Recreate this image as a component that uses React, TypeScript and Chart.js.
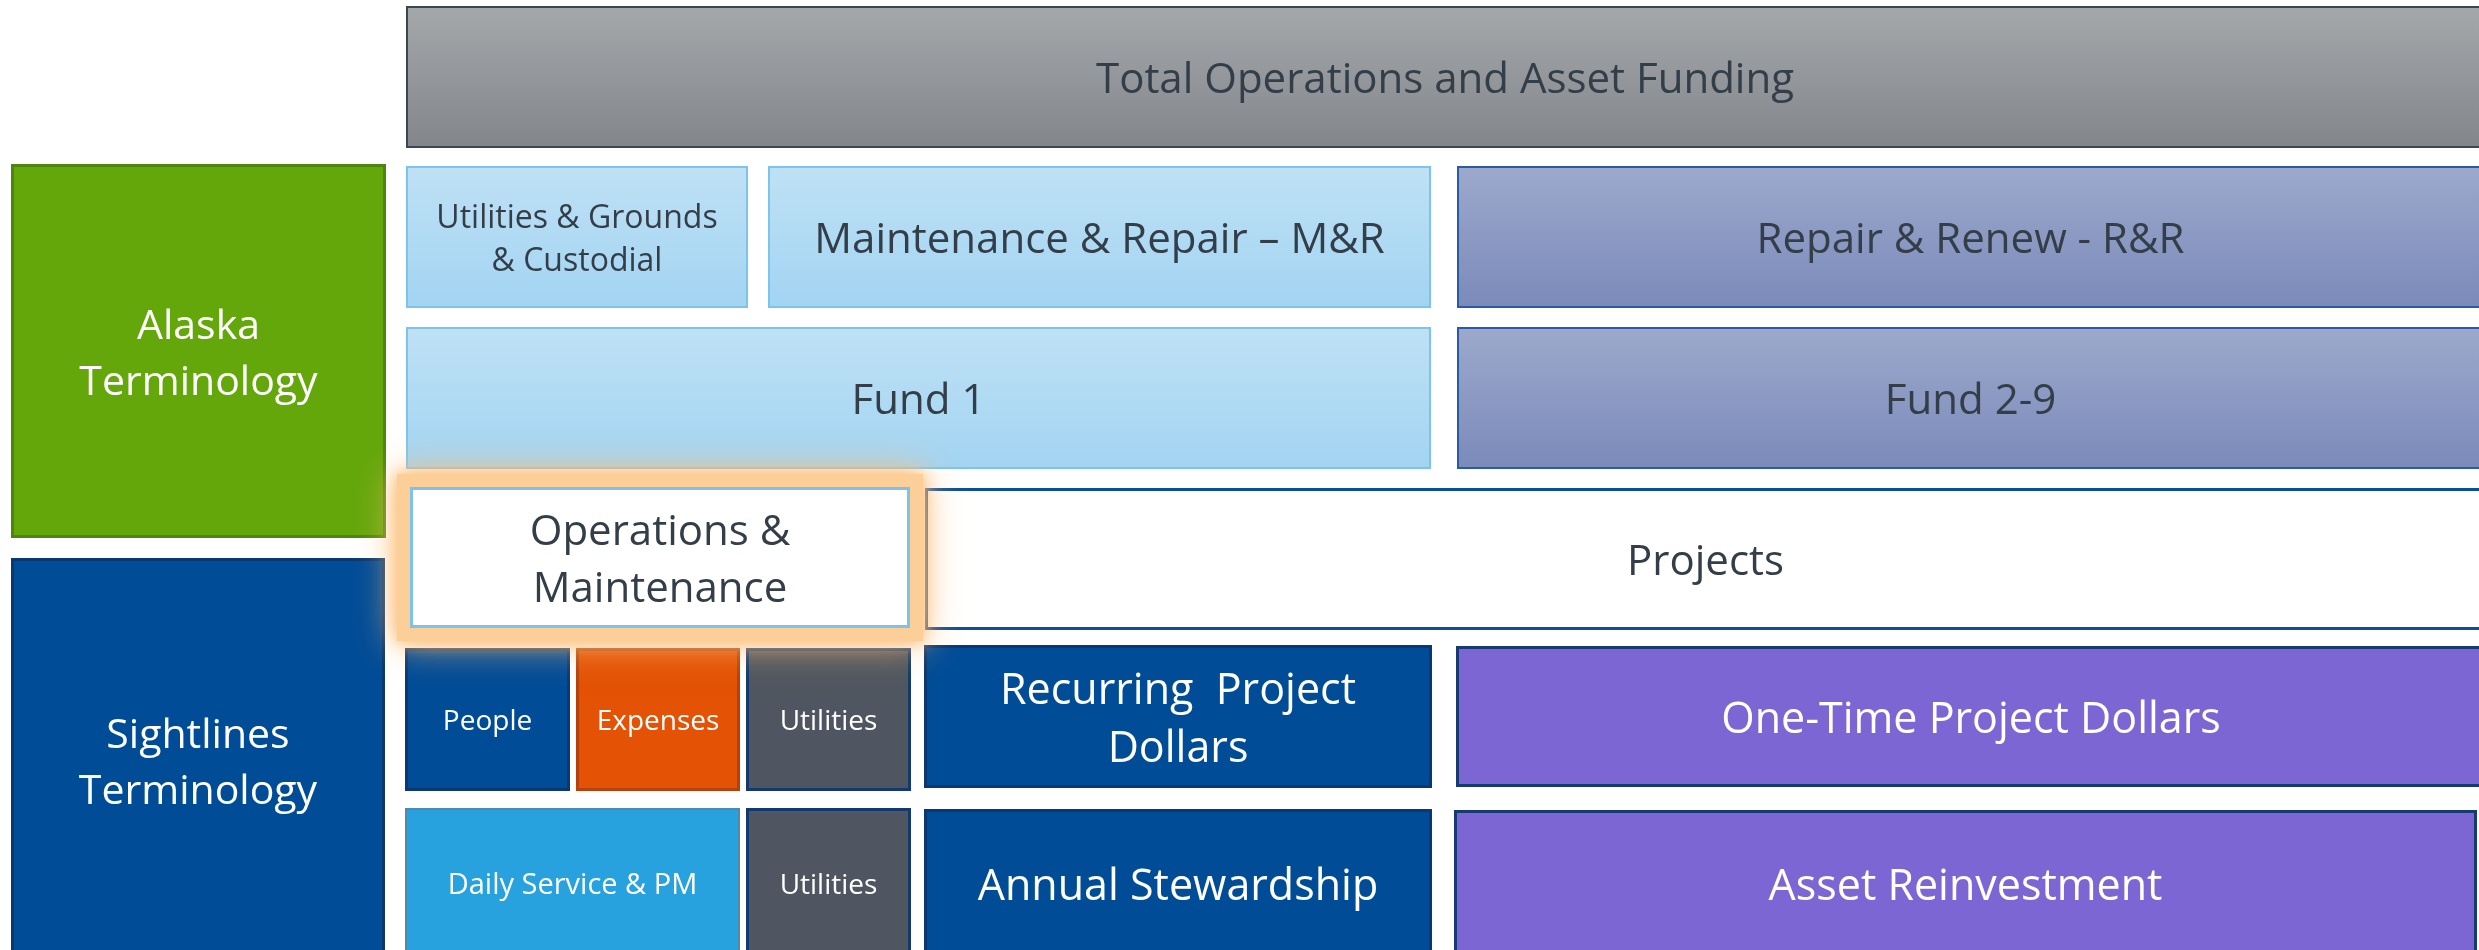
import React, { useEffect, useRef } from "react";
import { Chart, registerables } from "chart.js";

Chart.register(...registerables);

// ---- Diagram data (in diagram units on a 0..2479 x 0..950 grid) ----
const boxLabels: string[] = [
  "Total Operations and Asset Funding",
  "Alaska\nTerminology",
  "Utilities & Grounds\n& Custodial",
  "Maintenance & Repair \u2013 M&R",
  "Repair & Renew - R&R",
  "Fund 1",
  "Fund 2-9",
  "Sightlines\nTerminology",
  "Projects",
  "People",
  "Expenses",
  "Utilities",
  "Recurring  Project\nDollars",
  "One-Time Project Dollars",
  "Daily Service & PM",
  "Utilities",
  "Annual Stewardship",
  "Asset Reinvestment",
  "Operations &\nMaintenance",
];
const boxXStart: number[] = [406, 11, 406, 768, 1457, 406, 1457, 11, 925, 405, 576, 746, 924, 1456, 405, 746, 924, 1454, 410];
const boxXEnd: number[] = [2484, 386, 748, 1431, 2484, 1431, 2484, 385, 2486, 570, 740, 911, 1432, 2486, 740, 911, 1432, 2477, 910];
const boxYStart: number[] = [6, 164, 166, 166, 166, 327, 327, 558, 488, 648, 648, 648, 645, 646, 808, 808, 809, 810, 487];
const boxYEnd: number[] = [148, 538, 308, 308, 308, 469, 469, 962, 630, 791, 791, 791, 788, 787, 958, 958, 958, 958, 628];
const boxKind: string[] = [
  "total", "green", "light", "light", "slate", "light", "slate", "navy", "projects",
  "navy", "orange", "grey", "navy", "purple", "sky", "grey", "navy", "purple", "om",
];
const boxTextSize: number[] = [42, 41, 32, 42, 42, 42, 42, 41, 42, 28, 28, 28, 43, 43, 29, 28, 43, 43, 42];

type KindStyle = { fill: string[]; border: string; bw: number; text: string; glow?: boolean };
const KIND_STYLE: Record<string, KindStyle> = {
  total: { fill: ["#a5a8ab", "#82858a"], border: "#3c464f", bw: 2, text: "#333e48" },
  green: { fill: ["#64a70b", "#64a70b"], border: "#4d850f", bw: 3, text: "#ffffff" },
  light: { fill: ["#bfe1f5", "#a2d4f2"], border: "#7dc4ed", bw: 2, text: "#333e48" },
  slate: { fill: ["#9da9cc", "#7a8aba"], border: "#2a5aa3", bw: 2, text: "#333e48" },
  navy: { fill: ["#004c97", "#004c97"], border: "#0b3870", bw: 3, text: "#ffffff" },
  projects: { fill: ["#ffffff", "#ffffff"], border: "#0d4e98", bw: 3, text: "#333e48" },
  orange: { fill: ["#e35205", "#e35205"], border: "#b4420e", bw: 3, text: "#ffffff" },
  grey: { fill: ["#4f5661", "#4f5661"], border: "#123a70", bw: 3, text: "#ffffff" },
  purple: { fill: ["#7b66d3", "#7b66d3"], border: "#183a72", bw: 3, text: "#ffffff" },
  sky: { fill: ["#27a2df", "#27a2df"], border: "#5089ad", bw: 2, text: "#ffffff" },
  om: { fill: ["#ffffff", "#ffffff"], border: "#7cc3ec", bw: 3, text: "#333e48", glow: true },
};

const FONT_FAMILY = "'Open Sans', 'Noto Sans', sans-serif";
const CONDENSE = 1.0;

const boxesPlugin = {
  id: "diagramBoxes",
  afterDatasetsDraw(chart: any) {
    const { ctx, scales } = chart;
    const xs = scales.x;
    const ys = scales.y;
    for (let i = 0; i < boxLabels.length; i++) {
      const st = KIND_STYLE[boxKind[i]];
      const left = xs.getPixelForValue(boxXStart[i]);
      const right = xs.getPixelForValue(boxXEnd[i]);
      const top = ys.getPixelForValue(boxYStart[i]);
      const bottom = ys.getPixelForValue(boxYEnd[i]);
      const w = right - left;
      const h = bottom - top;

      if (st.glow) {
        ctx.save();
        ctx.shadowColor = "rgba(252,190,120,1)";
        ctx.shadowBlur = 36;
        ctx.fillStyle = "#fdcf98";
        ctx.fillRect(left - 13, top - 13, w + 26, h + 26);
        ctx.shadowBlur = 14;
        ctx.fillRect(left - 13, top - 13, w + 26, h + 26);
        ctx.restore();
      }

      ctx.save();
      const grad = ctx.createLinearGradient(0, top, 0, bottom);
      grad.addColorStop(0, st.fill[0]);
      grad.addColorStop(1, st.fill[1]);
      ctx.fillStyle = grad;
      ctx.fillRect(left, top, w, h);
      ctx.strokeStyle = st.border;
      ctx.lineWidth = st.bw;
      ctx.strokeRect(left + st.bw / 2, top + st.bw / 2, w - st.bw, h - st.bw);
      ctx.restore();

      // text
      const size = boxTextSize[i];
      const lines = boxLabels[i].split("\n");
      const lineH = size * 1.36;
      const cap = size * 0.714;
      const cx = (left + right) / 2;
      const cy = (top + bottom) / 2;
      const b1 = cy + cap / 2 - ((lines.length - 1) * lineH) / 2 + 1;
      ctx.save();
      ctx.fillStyle = st.text;
      ctx.font = `${size}px ${FONT_FAMILY}`;
      ctx.textAlign = "center";
      ctx.textBaseline = "alphabetic";
      lines.forEach((ln, k) => {
        ctx.save();
        ctx.translate(cx, b1 + k * lineH);
        ctx.scale(CONDENSE, 1);
        ctx.fillText(ln, 0, 0);
        ctx.restore();
      });
      ctx.restore();
    }
  },
};

export default function App() {
  const canvasRef = useRef<HTMLCanvasElement | null>(null);

  useEffect(() => {
    document.body.style.margin = "0";
    const canvas = canvasRef.current;
    if (!canvas) return;
    const chart = new Chart(canvas, {
      type: "scatter",
      data: {
        datasets: [
          {
            label: "boxes",
            data: boxLabels.map((_, i) => ({
              x: (boxXStart[i] + boxXEnd[i]) / 2,
              y: (boxYStart[i] + boxYEnd[i]) / 2,
            })),
            pointRadius: 0,
            pointHoverRadius: 0,
          },
        ],
      },
      options: {
        animation: false,
        responsive: true,
        maintainAspectRatio: false,
        layout: { padding: 0 },
        events: [],
        plugins: {
          legend: { display: false },
          tooltip: { enabled: false },
          title: { display: false },
        },
        scales: {
          x: { type: "linear", min: 0, max: 2479, display: false },
          y: { type: "linear", min: 0, max: 950, reverse: true, display: false },
        },
      },
      plugins: [boxesPlugin],
    });
    return () => chart.destroy();
  }, []);

  return (
    <div style={{ position: "fixed", left: 0, top: 0, width: 2479, height: 950, background: "#ffffff" }}>
      <canvas ref={canvasRef} />
    </div>
  );
}
